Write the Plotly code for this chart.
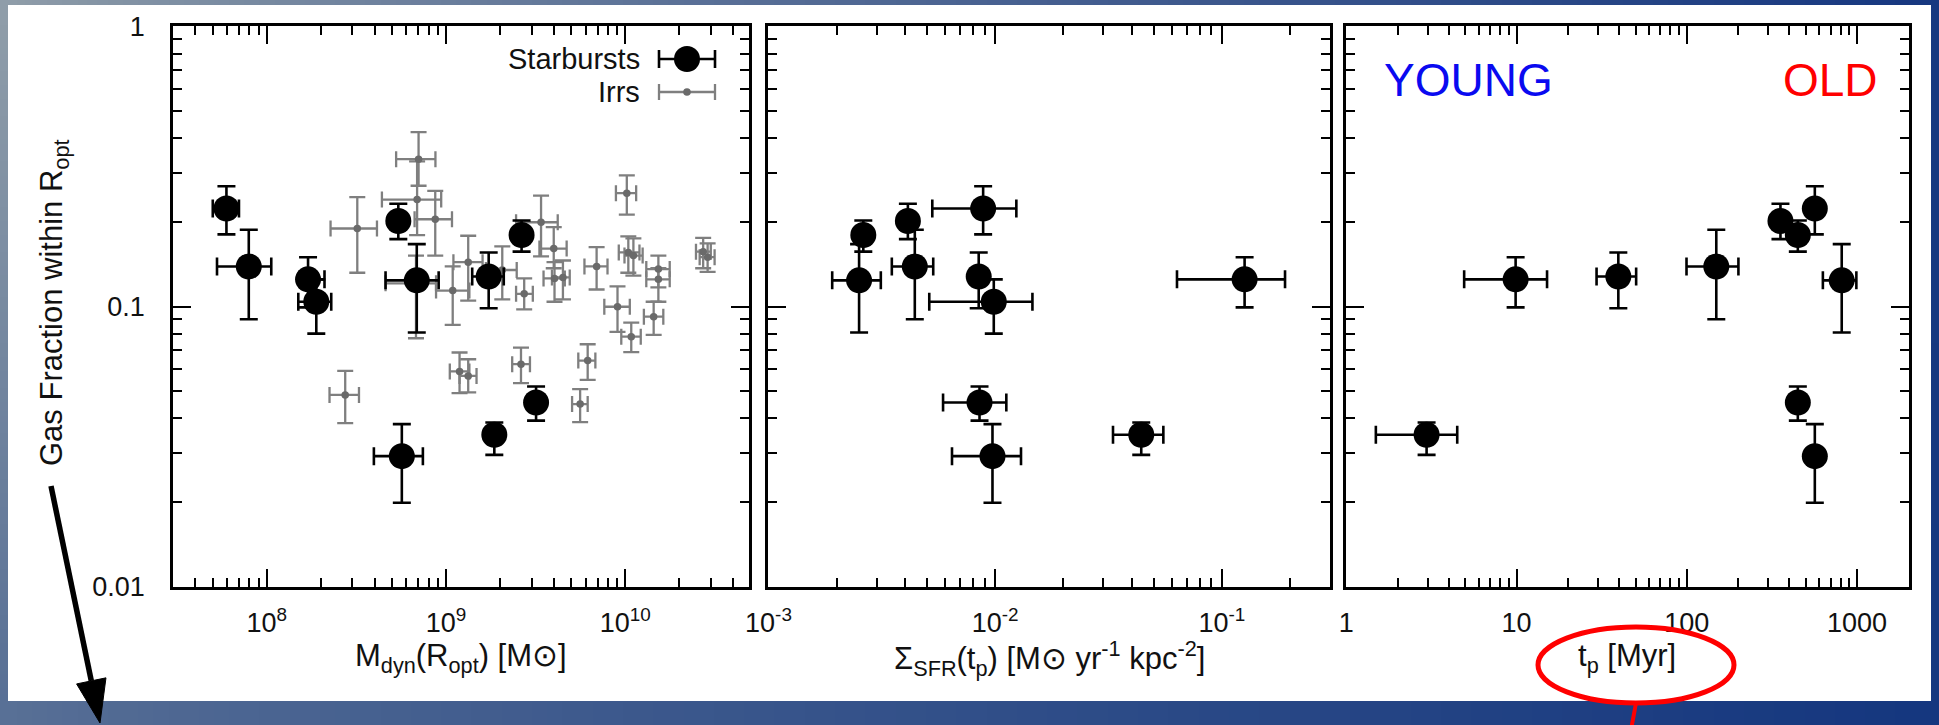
import math, zlib, struct, base64
import plotly.graph_objects as go

W, H = 1939, 725

# ---------------- data ----------------
# Starbursts (same galaxies in the three panels)
sb_mdyn    = [5.96e7, 7.94e7, 1.70e8, 1.89e8, 5.42e8, 6.87e8, 5.67e8, 1.73e9, 2.64e9, 3.18e9, 1.86e9]
sb_mdyn_lo = [5.0e7, 5.28e7, 1.53e8, 1.5e8, 5.42e8, 4.6e8, 3.96e8, 1.4e9, 2.64e9, 3.18e9, 1.86e9]
sb_mdyn_hi = [7.0e7, 1.06e8, 2.1e8, 2.29e8, 5.42e8, 9.1e8, 7.43e8, 2.1e9, 2.64e9, 3.18e9, 1.86e9]
sb_fgas    = [0.224, 0.139, 0.125, 0.104, 0.202, 0.124, 0.0292, 0.128, 0.180, 0.0454, 0.0348]
sb_fgas_lo = [0.181, 0.090, 0.0993, 0.080, 0.174, 0.0807, 0.0199, 0.0986, 0.157, 0.0391, 0.0295]
sb_fgas_hi = [0.269, 0.188, 0.150, 0.125, 0.233, 0.167, 0.038, 0.156, 0.203, 0.0518, 0.0385]
sb_sfr     = [0.00885, 0.00442, 0.126, 0.00986, 0.00412, 0.00251, 0.00973, 0.00846, 0.00262, 0.00853, 0.0441]
sb_sfr_lo  = [0.00528, 0.0035, 0.0634, 0.00512, 0.00412, 0.00191, 0.00645, 0.00846, 0.00262, 0.00589, 0.0331]
sb_sfr_hi  = [0.0124, 0.00533, 0.190, 0.0146, 0.00412, 0.00313, 0.013, 0.00846, 0.00262, 0.0112, 0.0552]
sb_tp      = [565, 149, 9.87, None, 355, 813, 565, 39.6, 449, 449, 2.96]
sb_tp_lo   = [565, 99.6, 4.92, None, 355, 630, 565, 29.5, 449, 449, 1.49]
sb_tp_hi   = [565, 201, 15.1, None, 355, 991, 565, 50.4, 449, 449, 4.48]

# Irregulars (panel 1 only)
irr_mdyn    = [7.03e8, 6.9e8, 6.8e8, 8.71e8, 3.2e8, 2.74e8, 1.09e9, 1.19e9, 1.33e9, 1.33e9,
               2.06e9, 2.73e9, 3.39e9, 3.99e9, 4.03e9, 4.49e9, 6.92e9, 9.05e9, 1.08e10, 1.02e10,
               1.04e10, 1.11e10, 1.53e10, 1.53e10, 1.44e10, 6.17e9, 5.6e9, 2.62e9, 2.72e10, 2.88e10]
irr_mdyn_lo = [5.27e8, 4.39e8, 4.6e8, 6.68e8, 2.27e8, 2.24e8, 8.8e8, 1.05e9, 1.1e9, 1.19e9,
               1.67e9, 2.46e9, 2.46e9, 3.32e9, 3.5e9, 3.9e9, 5.92e9, 7.64e9, 9.5e9, 8.87e9,
               9.2e9, 9.9e9, 1.31e10, 1.31e10, 1.27e10, 5.47e9, 5.05e9, 2.34e9, 2.48e10, 2.6e10]
irr_mdyn_hi = [8.73e8, 9.4e8, 8.8e8, 1.08e9, 4.12e8, 3.27e8, 1.35e9, 1.35e9, 1.6e9, 1.48e9,
               2.48e9, 3.05e9, 4.2e9, 4.71e9, 4.6e9, 4.9e9, 7.96e9, 1.06e10, 1.22e10, 1.15e10,
               1.2e10, 1.25e10, 1.77e10, 1.77e10, 1.63e10, 6.81e9, 6.17e9, 2.94e9, 3.0e10, 3.15e10]
irr_fgas    = [0.336, 0.241, 0.121, 0.205, 0.190, 0.0483, 0.114, 0.0586, 0.144, 0.0565,
               0.135, 0.111, 0.200, 0.161, 0.126, 0.127, 0.139, 0.0998, 0.078, 0.254,
               0.156, 0.152, 0.136, 0.125, 0.092, 0.0641, 0.0448, 0.0622, 0.157, 0.150]
irr_fgas_lo = [0.27, 0.18, 0.077, 0.152, 0.132, 0.0383, 0.0859, 0.049, 0.105, 0.0493,
               0.106, 0.0976, 0.151, 0.137, 0.104, 0.106, 0.115, 0.0811, 0.0687, 0.213,
               0.132, 0.129, 0.117, 0.104, 0.0792, 0.0547, 0.0386, 0.0532, 0.137, 0.133]
irr_fgas_hi = [0.42, 0.33, 0.152, 0.259, 0.246, 0.0589, 0.139, 0.0685, 0.179, 0.0648,
               0.164, 0.126, 0.249, 0.192, 0.144, 0.146, 0.163, 0.118, 0.0876, 0.294,
               0.178, 0.175, 0.152, 0.137, 0.104, 0.0733, 0.0507, 0.0713, 0.176, 0.168]

# axis ticks
y_tickvals = [0.01, 0.1, 1]
y_ticktext = ["0.01", "0.1", "1"]
x1_tickvals = [1e8, 1e9, 1e10]
x1_ticktext = ["10<sup>8</sup>", "10<sup>9</sup>", "10<sup>10</sup>"]
x2_tickvals = [1e-3, 1e-2, 1e-1]
x2_ticktext = ["10<sup>-3</sup>", "10<sup>-2</sup>", "10<sup>-1</sup>"]
x3_tickvals = [1, 10, 100, 1000]
x3_ticktext = ["1", "10", "100", "1000"]

x1_range = (3.0e7, 4.9e10)
x2_range = (0.000995, 0.3)
x3_range = (0.995, 2020)
y_range = (0.00995, 1.005)

# ---------------- helpers ----------------
def px(x):
    return x / W

def py(y):
    return 1 - y / H

def errs(v, lo, hi):
    plus = [None if a is None else b - a for a, b in zip(v, hi)]
    minus = [None if a is None else a - b for a, b in zip(v, lo)]
    return plus, minus

def minor_vals(lo, hi):
    out = []
    for e in range(int(math.floor(math.log10(lo))) - 1, int(math.ceil(math.log10(hi))) + 1):
        for d in range(2, 10):
            v = d * 10 ** e
            if lo <= v <= hi:
                out.append(v)
    return out

def png_gradient(w, h, tl, tr, bl, br):
    raw = b""
    for j in range(h):
        fy = j / (h - 1)
        row = b"\x00"
        for i in range(w):
            fx = (i / (w - 1)) ** 0.8
            c = []
            for k in range(3):
                top = tl[k] + (tr[k] - tl[k]) * fx
                bot = bl[k] + (br[k] - bl[k]) * fx
                c.append(int(round(top + (bot - top) * fy)))
            row += bytes(c)
        raw += row
    def chunk(tag, data):
        return struct.pack(">I", len(data)) + tag + data + struct.pack(">I", zlib.crc32(tag + data) & 0xffffffff)
    png = b"\x89PNG\r\n\x1a\n" + chunk(b"IHDR", struct.pack(">IIBBBBB", w, h, 8, 2, 0, 0, 0)) \
        + chunk(b"IDAT", zlib.compress(raw)) + chunk(b"IEND", b"")
    return "data:image/png;base64," + base64.b64encode(png).decode()

FONT = "Liberation Sans, Arial, Helvetica, sans-serif"
TXT = "#111111"

fig = go.Figure()

# Irrs
ip, im = errs(irr_mdyn, irr_mdyn_lo, irr_mdyn_hi)
jp, jm = errs(irr_fgas, irr_fgas_lo, irr_fgas_hi)
fig.add_trace(go.Scatter(
    x=irr_mdyn, y=irr_fgas, mode="markers", xaxis="x", yaxis="y",
    marker=dict(size=7.5, color="#6a6a6a"),
    error_x=dict(type="data", symmetric=False, array=ip, arrayminus=im, color="#7f7f7f", thickness=2.3, width=8),
    error_y=dict(type="data", symmetric=False, array=jp, arrayminus=jm, color="#7f7f7f", thickness=2.3, width=8),
    showlegend=False, cliponaxis=False))

fp, fm = errs(sb_fgas, sb_fgas_lo, sb_fgas_hi)
panels = [
    (sb_mdyn, sb_mdyn_lo, sb_mdyn_hi, "x", "y"),
    (sb_sfr, sb_sfr_lo, sb_sfr_hi, "x2", "y2"),
    (sb_tp, sb_tp_lo, sb_tp_hi, "x3", "y3"),
]
for xv, xlo, xhi, xa, ya in panels:
    xp, xm = errs(xv, xlo, xhi)
    fig.add_trace(go.Scatter(
        x=xv, y=sb_fgas, mode="markers", xaxis=xa, yaxis=ya,
        marker=dict(size=26, color="black"),
        error_x=dict(type="data", symmetric=False, array=xp, arrayminus=xm, color="black", thickness=2.6, width=9),
        error_y=dict(type="data", symmetric=False, array=fp, arrayminus=fm, color="black", thickness=2.6, width=9),
        showlegend=False, cliponaxis=False))

# ---------------- axes ----------------
ydom = [py(587), py(26)]
common = dict(type="log", showline=True, linecolor="black", linewidth=2.5, mirror="allticks",
              ticks="inside", ticklen=18, tickwidth=2, tickcolor="black", showgrid=False, zeroline=False,
              automargin=False,
              tickfont=dict(family=FONT, size=27, color=TXT))

def xaxis(dom, anchor, rng, tv, tt):
    d = dict(common)
    d.update(domain=dom, anchor=anchor, range=[math.log10(rng[0]), math.log10(rng[1])],
             tickmode="array", tickvals=tv, ticktext=tt, ticklabelstandoff=10,
             minor=dict(ticks="inside", ticklen=9, tickwidth=2, tickcolor="black",
                        tickvals=minor_vals(*rng), showgrid=False))
    return d

def yaxis(anchor, labels):
    d = dict(common)
    d.update(domain=ydom, anchor=anchor, range=[math.log10(y_range[0]), math.log10(y_range[1])],
             tickmode="array", tickvals=y_tickvals, ticktext=y_ticktext, showticklabels=labels,
             ticklabelstandoff=20,
             minor=dict(ticks="inside", ticklen=9, tickwidth=2, tickcolor="black",
                        tickvals=minor_vals(*y_range), showgrid=False))
    return d

layout = dict(
    width=W, height=H, autosize=False,
    margin=dict(l=0, r=0, t=0, b=0, pad=0),
    paper_bgcolor="#3a5688", plot_bgcolor="rgba(0,0,0,0)",
    font=dict(family=FONT, color=TXT),
    xaxis=xaxis([px(173), px(749)], "y", x1_range, x1_tickvals, x1_ticktext),
    xaxis2=xaxis([px(768), px(1330)], "y2", x2_range, x2_tickvals, x2_ticktext),
    xaxis3=xaxis([px(1346), px(1909)], "y3", x3_range, x3_tickvals, x3_ticktext),
    yaxis=yaxis("x", True),
    yaxis2=yaxis("x2", False),
    yaxis3=yaxis("x3", False),
    showlegend=False,
)
fig.update_layout(**layout)

# background gradient + white card
fig.add_layout_image(dict(
    source=png_gradient(64, 16, (0x8f, 0x9d, 0xa9), (0x17, 0x38, 0x80), (0x58, 0x70, 0x96), (0x15, 0x37, 0x7f)),
    xref="paper", yref="paper", x=0, y=1, sizex=1, sizey=1, sizing="stretch",
    xanchor="left", yanchor="top", layer="below"))

shapes = []
shapes.append(dict(type="rect", xref="paper", yref="paper", x0=px(8), x1=px(1931), y0=py(701), y1=py(5),
                   fillcolor="white", line=dict(width=0), layer="below"))

# manual legend (inside panel 1)
def hbar(x0, x1, y, cap, color, w):
    return [dict(type="line", xref="paper", yref="paper", x0=px(x0), x1=px(x1), y0=py(y), y1=py(y), line=dict(color=color, width=w)),
            dict(type="line", xref="paper", yref="paper", x0=px(x0), x1=px(x0), y0=py(y - cap), y1=py(y + cap), line=dict(color=color, width=w)),
            dict(type="line", xref="paper", yref="paper", x0=px(x1), x1=px(x1), y0=py(y - cap), y1=py(y + cap), line=dict(color=color, width=w))]

def dot(cx, cy, r, color):
    return dict(type="circle", xref="paper", yref="paper", x0=px(cx - r), x1=px(cx + r), y0=py(cy + r), y1=py(cy - r),
                fillcolor=color, line=dict(width=0))

shapes += hbar(659, 715, 59, 9, "black", 2.6)
shapes.append(dot(687, 59, 13, "black"))
shapes += hbar(659, 715, 92, 8, "#7f7f7f", 2.3)
shapes.append(dot(687, 92, 3.8, "#6a6a6a"))

# black arrow from the y-axis title
sx, sy, tx, ty = 51, 486, 100, 723
L = math.hypot(tx - sx, ty - sy)
ux, uy = (tx - sx) / L, (ty - sy) / L
bx, by = tx - 43 * ux, ty - 43 * uy
shapes.append(dict(type="line", xref="paper", yref="paper", x0=px(sx), y0=py(sy), x1=px(bx), y1=py(by),
                   line=dict(color="black", width=5.5)))
p1 = (bx + 15 * uy, by - 15 * ux)
p2 = (bx - 15 * uy, by + 15 * ux)
path = "M {} {} L {} {} L {} {} Z".format(px(tx), py(ty), px(p1[0]), py(p1[1]), px(p2[0]), py(p2[1]))
shapes.append(dict(type="path", xref="paper", yref="paper", path=path, fillcolor="black", line=dict(color="black", width=1)))

# red ellipse + line around the t_p label
shapes.append(dict(type="circle", xref="paper", yref="paper", x0=px(1538), x1=px(1734), y0=py(703), y1=py(627),
                   line=dict(color="#ff0000", width=5)))
shapes.append(dict(type="line", xref="paper", yref="paper", x0=px(1636), y0=py(703), x1=px(1631), y1=py(730),
                   line=dict(color="#ff0000", width=4)))
fig.update_layout(shapes=shapes)

# ---------------- texts ----------------
ann = []
def txt(x, y, s, size=30, color=TXT, angle=0, xanchor="center"):
    ann.append(dict(x=px(x), y=py(y), xref="paper", yref="paper", text=s, showarrow=False,
                    xanchor=xanchor, yanchor="middle", textangle=angle,
                    font=dict(family=FONT, size=size, color=color)))

txt(461, 658, "M<sub>dyn</sub>(R<sub>opt</sub>) [M⊙]", size=31)
txt(1049, 658, "Σ<sub>SFR</sub>(t<sub>p</sub>) [M⊙ yr<sup>-1</sup> kpc<sup>-2</sup>]", size=31)
txt(1627, 658, "t<sub>p</sub> [Myr]", size=31)
txt(54, 303, "Gas Fraction within R<sub>opt</sub>", size=31, angle=-90)
txt(642, 59, "Starbursts", size=29, xanchor="right")
txt(642, 92, "Irrs", size=29, xanchor="right")
txt(1468, 80, "YOUNG", size=46, color="#0a0af0")
txt(1830, 80, "OLD", size=46, color="#ff0000")
fig.update_layout(annotations=ann)

fig.write_html("out.html")
